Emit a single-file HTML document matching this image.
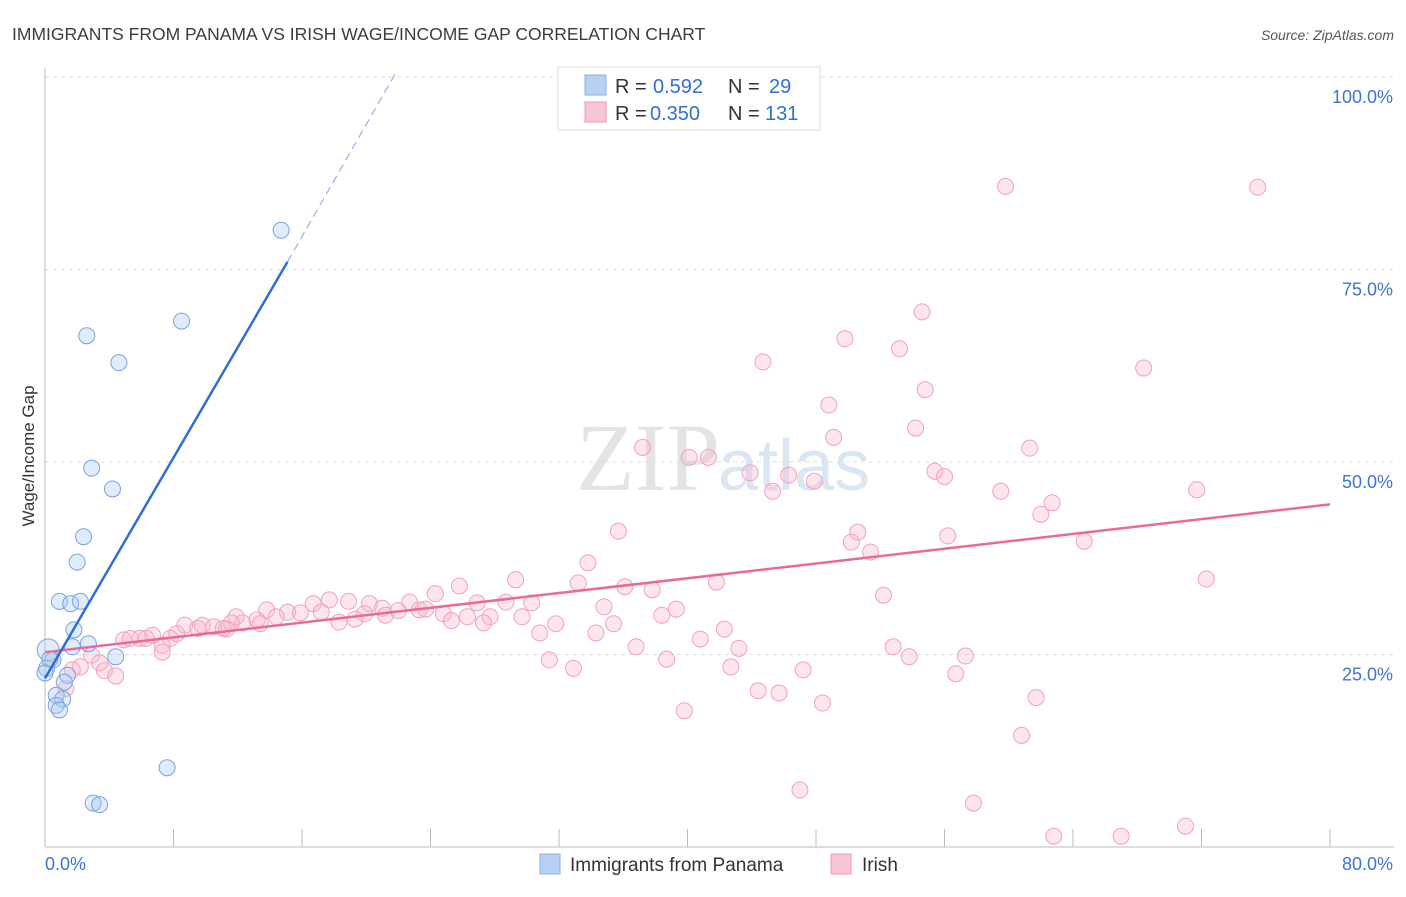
<!DOCTYPE html>
<html><head><meta charset="utf-8"><style>
body{margin:0;background:#fff;font-family:"Liberation Sans",sans-serif}
</style></head><body>
<svg id="c" width="1406" height="892" xmlns="http://www.w3.org/2000/svg" style="font-family:'Liberation Sans',sans-serif">
<text x="12" y="40" font-size="17.5" fill="#3c3c3c">IMMIGRANTS FROM PANAMA VS IRISH WAGE/INCOME GAP CORRELATION CHART</text>
<text x="1394" y="40" font-size="14" fill="#555" text-anchor="end" font-style="italic">Source: ZipAtlas.com</text>
<text x="720" y="490" font-size="96" fill="#e4e4e4" text-anchor="end" font-family="Liberation Serif">ZIP</text>
<text x="718" y="490" font-size="72" fill="#dbe6f5">atlas</text>
<text transform="translate(34,456) rotate(-90)" font-size="17" fill="#333" text-anchor="middle">Wage/Income Gap</text>
<g id="grid"></g><g id="marks"></g>
<g>
<rect x="558" y="67" width="262" height="63" fill="#fff" stroke="#ddd"/>
<rect x="585" y="75" width="21" height="20" fill="#b8d0f4" stroke="#8ab0e8"/>
<rect x="585" y="102" width="21" height="20" fill="#f9c4d4" stroke="#ef9ab4"/>
<text x="615" y="93" font-size="20" fill="#333">R =</text>
<text x="653" y="93" font-size="20" fill="#2f6fd6">0.592</text>
<text x="728" y="93" font-size="20" fill="#333">N =</text>
<text x="769" y="93" font-size="20" fill="#2f6fd6">29</text>
<text x="615" y="120" font-size="20" fill="#333">R =</text>
<text x="650" y="120" font-size="20" fill="#2f6fd6">0.350</text>
<text x="728" y="120" font-size="20" fill="#333">N =</text>
<text x="765" y="120" font-size="20" fill="#2f6fd6">131</text>
</g>
<g>
<rect x="540" y="854" width="20" height="20" fill="#b8d0f4" stroke="#8ab0e8"/>
<text x="570" y="871" font-size="19" fill="#333">Immigrants from Panama</text>
<rect x="831" y="854" width="20" height="20" fill="#f9c4d4" stroke="#ef9ab4"/>
<text x="862" y="871" font-size="19" fill="#333">Irish</text>
</g>
</svg>
<script>
const xTicks=[0,8,16,24,32,40,48,56,64,72,80];
const yTicks=[25,50,75,100];
const yTickLabels=["25.0%","50.0%","75.0%","100.0%"];
const panamaX=[14.7,8.5,2.6,4.6,2.9,4.2,2.4,2.0,0.9,1.6,2.2,1.8,1.7,2.7,4.4,0.2,0.5,0.1,1.4,1.2,0.7,1.1,0.7,0.9,7.6,3.0,3.4,0.3,0];
const panamaY=[80.1,68.3,66.4,62.9,49.2,46.5,40.3,37.0,31.9,31.6,31.9,28.2,26.0,26.4,24.7,25.6,24.3,23.2,22.3,21.4,19.7,19.2,18.4,17.8,10.3,5.7,5.5,24.4,22.6];
const irishX=[59.8,75.5,54.6,49.8,53.2,44.7,68.4,54.8,48.8,54.2,49.1,37.2,61.3,40.1,41.3,43.9,46.3,47.9,55.4,56.0,45.3,59.5,71.7,62.7,62.0,35.7,50.6,50.2,56.2,64.7,51.4,33.8,72.3,29.3,33.2,41.8,25.8,36.1,37.8,24.3,52.2,22.7,17.7,18.9,16.7,26.9,28.7,30.3,20.2,34.8,39.3,38.4,13.8,15.1,15.9,17.2,21.0,22.0,23.3,23.7,21.2,19.9,11.9,13.2,14.4,12.3,13.4,11.6,24.8,25.3,26.3,27.7,27.3,29.7,19.3,18.3,31.8,35.4,8.7,9.5,9.8,10.5,11.1,11.3,8.2,30.8,34.3,42.3,6.7,5.9,4.9,5.3,6.3,7.8,40.8,7.3,36.8,43.2,52.8,7.3,2.9,53.8,57.3,31.4,38.7,3.4,2.2,3.7,42.7,47.2,32.9,1.7,4.4,56.7,1.3,44.4,45.7,61.7,48.4,39.8,60.8,47.0,57.8,62.8,67.0,71.0];
const irishY=[85.8,85.7,69.5,66.0,64.7,63.0,62.2,59.4,57.4,54.4,53.2,51.9,51.8,50.6,50.6,48.6,48.3,47.5,48.8,48.1,46.2,46.2,46.4,44.7,43.2,41.0,40.9,39.6,40.4,39.7,38.3,36.9,34.8,34.7,34.3,34.4,33.9,33.8,33.4,32.9,32.7,31.8,32.1,31.9,31.6,31.7,31.8,31.7,31.6,31.2,30.9,30.1,30.8,30.5,30.4,30.5,31.0,30.7,30.8,30.9,30.1,30.3,29.9,29.5,29.9,29.1,29.0,29.1,30.3,29.4,29.9,29.9,29.1,29.9,29.6,29.2,29.0,29.0,28.8,28.4,28.8,28.6,28.4,28.3,27.7,27.8,27.8,28.3,27.5,27.1,26.9,27.1,27.1,27.1,27.0,26.2,26.0,25.8,26.0,25.3,24.9,24.7,24.8,24.3,24.4,23.9,23.4,22.9,23.4,23.0,23.2,23.0,22.2,22.5,20.6,20.3,20.0,19.4,18.7,17.7,14.5,7.4,5.7,1.4,1.4,2.7];
const panamaLine=[[0,21.9],[15.1,76.0]];
const panamaDash=[[15.1,76.0],[21.8,100.4]];
const irishLine=[[0,25.3],[80,44.5]];
const X=v=>45+v/80*1285, Y=v=>847-v/25*192.5;
const NS="http://www.w3.org/2000/svg";
function mk(t,a,p){const e=document.createElementNS(NS,t);for(const k in a)e.setAttribute(k,a[k]);p.appendChild(e);return e;}
const g=document.getElementById('grid'), m=document.getElementById('marks');
yTicks.forEach((v,i)=>{
 const l=mk('line',{x1:45,x2:1394,y1:Y(v),y2:Y(v),stroke:'#ddd','stroke-dasharray':'4,4'},g);
 
 
 const t=mk('text',{x:1393,y:Y(v)+26,'font-size':18,fill:'#3d74d4','text-anchor':'end'},g);t.textContent=yTickLabels[i];
 
 
});
mk('line',{x1:45,x2:45,y1:68,y2:847,stroke:'#bbb'},g);
mk('line',{x1:45,x2:1394,y1:847,y2:847,stroke:'#bbb'},g);
xTicks.forEach(v=>{const l=mk('line',{x1:X(v),x2:X(v),y1:829,y2:847,stroke:'#bbb'},g);
 
 });
let t=mk('text',{x:45,y:870,'font-size':18,fill:'#3d74d4'},g);t.textContent='0.0%';


t=mk('text',{x:1393,y:870,'font-size':18,fill:'#3d74d4','text-anchor':'end'},g);t.textContent='80.0%';


irishX.forEach((x,i)=>{const c=mk('circle',{cx:X(x),cy:Y(irishY[i]),r:8,fill:'rgba(249,180,202,0.35)',stroke:'#f0a3bc','stroke-width':1},m);
 
 });
panamaX.forEach((x,i)=>{const c=mk('circle',{cx:X(x),cy:Y(panamaY[i]),r:i==15?11:8,fill:'rgba(170,200,244,0.35)',stroke:'#78a2e2','stroke-width':1},m);
 
 });
let L=mk('line',{x1:X(irishLine[0][0]),y1:Y(irishLine[0][1]),x2:X(irishLine[1][0]),y2:Y(irishLine[1][1]),stroke:'#e8699a','stroke-width':2.5},m);


L=mk('line',{x1:X(panamaLine[0][0]),y1:Y(panamaLine[0][1]),x2:X(panamaLine[1][0]),y2:Y(panamaLine[1][1]),stroke:'#2e6fd6','stroke-width':2.5},m);


L=mk('line',{x1:X(panamaDash[0][0]),y1:Y(panamaDash[0][1]),x2:X(panamaDash[1][0]),y2:Y(panamaDash[1][1]),stroke:'#7fa6e6','stroke-width':1,'stroke-dasharray':'8,5'},m);


</script>
</body></html>
